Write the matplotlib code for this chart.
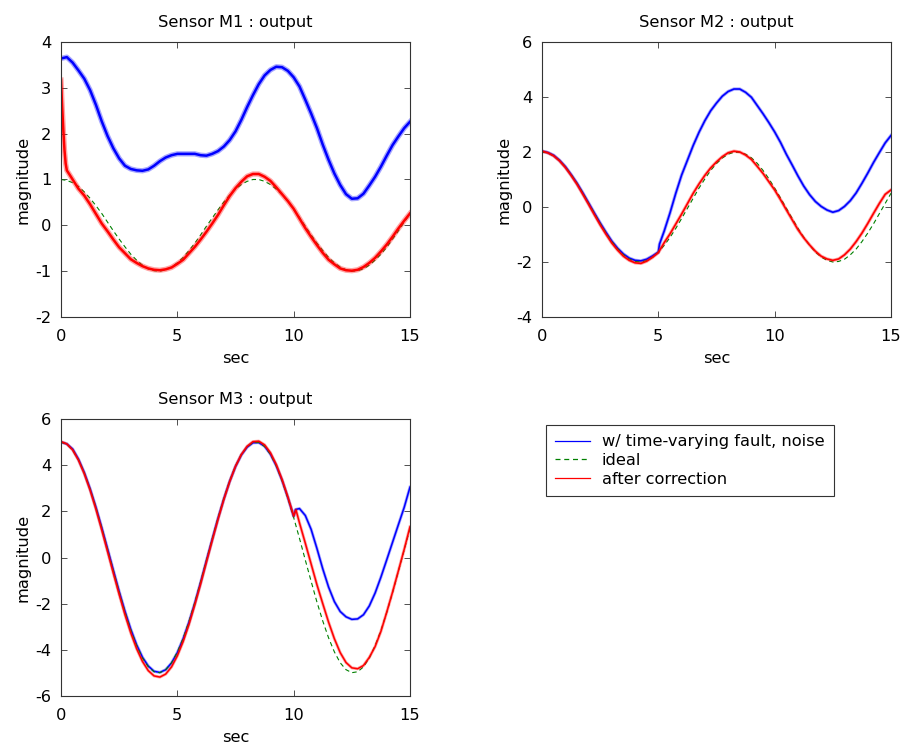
import numpy as np
import matplotlib
matplotlib.use("Agg")
import matplotlib.pyplot as plt
from matplotlib.lines import Line2D

plt.rcParams['font.family'] = ['DejaVu Sans']
plt.rcParams['axes.unicode_minus'] = False

# sample times (sec), 0.25 s spacing over 0..15
t = np.arange(61) * 0.25

# ---------------- Sensor M1 ----------------
m1_ideal = [1.00, 0.98, 0.93, 0.85, 0.73, 0.59, 0.43, 0.26, 0.07, -0.12,
            -0.30, -0.47, -0.63, -0.76, -0.87, -0.95, -0.99, -1.00, -0.97, -0.91,
            -0.82, -0.70, -0.55, -0.39, -0.21, -0.02, 0.16, 0.34, 0.51, 0.66,
            0.79, 0.89, 0.96, 1.00, 1.00, 0.96, 0.89, 0.79, 0.67, 0.52,
            0.35, 0.17, -0.02, -0.21, -0.39, -0.55, -0.70, -0.82, -0.91, -0.97,
            -1.00, -0.99, -0.95, -0.87, -0.76, -0.63, -0.48, -0.30, -0.12, 0.07,
            0.25]
m1_fault = [3.64, 3.67, 3.55, 3.38, 3.20, 2.95, 2.63, 2.27, 1.95, 1.68,
            1.46, 1.30, 1.23, 1.20, 1.19, 1.22, 1.30, 1.40, 1.48, 1.53,
            1.56, 1.56, 1.56, 1.56, 1.53, 1.52, 1.56, 1.62, 1.72, 1.86,
            2.05, 2.30, 2.58, 2.84, 3.08, 3.27, 3.39, 3.46, 3.45, 3.37,
            3.23, 3.03, 2.74, 2.44, 2.12, 1.76, 1.43, 1.13, 0.88, 0.68,
            0.58, 0.59, 0.69, 0.87, 1.06, 1.28, 1.52, 1.75, 1.94, 2.12,
            2.26]
# corrected output: start-up transient, then values on the 0.25 s grid
m1_start_t = [0.00, 0.05, 0.10, 0.15, 0.20]
m1_start_v = [3.17, 2.59, 2.08, 1.64, 1.35]
m1_corr = [1.20, 1.00, 0.80, 0.65, 0.46, 0.25, 0.04, -0.13, -0.31, -0.48,
           -0.61, -0.74, -0.82, -0.89, -0.94, -0.97, -0.98, -0.96, -0.92, -0.84,
           -0.75, -0.61, -0.47, -0.31, -0.14, 0.04, 0.23, 0.44, 0.64, 0.81,
           0.95, 1.07, 1.12, 1.12, 1.06, 0.97, 0.83, 0.68, 0.53, 0.36,
           0.15, -0.06, -0.25, -0.43, -0.60, -0.75, -0.85, -0.94, -0.98, -0.99,
           -0.97, -0.91, -0.82, -0.71, -0.57, -0.42, -0.25, -0.07, 0.10, 0.26]

# ---------------- Sensor M2 ----------------
m2_ideal = [2.00, 1.97, 1.86, 1.69, 1.46, 1.18, 0.86, 0.51, 0.14, -0.23,
            -0.60, -0.94, -1.26, -1.52, -1.74, -1.89, -1.98, -2.00, -1.95, -1.83,
            -1.64, -1.40, -1.11, -0.78, -0.42, -0.05, 0.32, 0.69, 1.02, 1.33,
            1.58, 1.78, 1.92, 1.99, 1.99, 1.92, 1.79, 1.59, 1.33, 1.03,
            0.69, 0.33, -0.04, -0.41, -0.77, -1.10, -1.39, -1.64, -1.82, -1.94,
            -2.00, -1.98, -1.90, -1.74, -1.53, -1.26, -0.95, -0.61, -0.24, 0.13,
            0.50]
m2_fault = [2.03, 1.98, 1.88, 1.70, 1.47, 1.18, 0.87, 0.52, 0.15, -0.22,
            -0.58, -0.92, -1.24, -1.50, -1.71, -1.86, -1.94, -1.96, -1.90, -1.78,
            -1.64, -0.88, -0.22, 0.50, 1.16, 1.70, 2.24, 2.72, 3.14, 3.50,
            3.78, 4.03, 4.20, 4.29, 4.29, 4.17, 3.99, 3.69, 3.39, 3.07,
            2.73, 2.35, 1.92, 1.53, 1.13, 0.76, 0.45, 0.20, 0.02, -0.11,
            -0.19, -0.13, 0.02, 0.23, 0.51, 0.86, 1.23, 1.62, 1.98, 2.33,
            2.60]
m2_fault_onset = (5.05, -1.35)
m2_corr = [2.03, 1.97, 1.86, 1.68, 1.44, 1.15, 0.83, 0.47, 0.10, -0.28,
           -0.65, -0.99, -1.31, -1.57, -1.79, -1.94, -2.03, -2.05, -1.97, -1.83,
           -1.66, -1.30, -0.98, -0.62, -0.26, 0.12, 0.50, 0.84, 1.15, 1.42,
           1.64, 1.83, 1.97, 2.03, 2.00, 1.89, 1.73, 1.48, 1.22, 0.92,
           0.62, 0.27, -0.10, -0.46, -0.82, -1.12, -1.38, -1.61, -1.79, -1.89,
           -1.94, -1.89, -1.74, -1.53, -1.26, -0.95, -0.60, -0.23, 0.13, 0.46,
           0.62]

# ---------------- Sensor M3 ----------------
m3_ideal = [5.00, 4.91, 4.65, 4.23, 3.66, 2.96, 2.16, 1.28, 0.35, -0.58,
            -1.50, -2.36, -3.14, -3.81, -4.35, -4.73, -4.95, -4.99, -4.86, -4.56,
            -4.10, -3.50, -2.77, -1.95, -1.05, -0.12, 0.81, 1.72, 2.56, 3.32,
            3.96, 4.46, 4.80, 4.98, 4.98, 4.81, 4.47, 3.97, 3.33, 2.58,
            1.73, 0.83, -0.11, -1.03, -1.93, -2.75, -3.48, -4.09, -4.56, -4.86,
            -4.99, -4.95, -4.74, -4.36, -3.82, -3.16, -2.38, -1.52, -0.60, 0.33,
            1.26]
m3_fault = [5.00, 4.92, 4.70, 4.26, 3.68, 2.98, 2.18, 1.30, 0.38, -0.55,
            -1.47, -2.33, -3.11, -3.78, -4.32, -4.70, -4.93, -4.98, -4.86, -4.57,
            -4.12, -3.52, -2.80, -1.98, -1.08, -0.14, 0.79, 1.70, 2.54, 3.30,
            3.94, 4.44, 4.78, 4.97, 4.98, 4.82, 4.48, 3.98, 3.35, 2.60,
            1.78, 2.12, 1.82, 1.22, 0.39, -0.49, -1.28, -1.91, -2.34, -2.57,
            -2.68, -2.66, -2.48, -2.10, -1.54, -0.85, -0.10, 0.66, 1.42, 2.17,
            3.05]
m3_fault_onset = (10.08, 2.08)
m3_corr = [5.02, 4.92, 4.66, 4.22, 3.63, 2.92, 2.10, 1.20, 0.26, -0.68,
           -1.60, -2.48, -3.27, -3.95, -4.50, -4.90, -5.13, -5.18, -5.05, -4.74,
           -4.26, -3.64, -2.90, -2.05, -1.15, -0.20, 0.74, 1.66, 2.52, 3.29,
           3.95, 4.46, 4.82, 5.02, 5.04, 4.88, 4.54, 4.03, 3.38, 2.62,
           1.80, 1.50, 0.62, -0.28, -1.18, -2.00, -2.80, -3.52, -4.12, -4.55,
           -4.78, -4.82, -4.68, -4.33, -3.86, -3.20, -2.37, -1.50, -0.58, 0.35,
           1.33]
m3_corr_onset = (10.10, 2.06)

x_ticks = [0, 5, 10, 15]
legend_labels = ['w/ time-varying fault, noise', 'ideal', 'after correction']

BLUE = (0.0, 0.0, 1.0)
GREEN = (0.0, 0.5, 0.0)
RED = (1.0, 0.0, 0.0)
FS = 11.7
DASH = (0, (4.0, 3.0))


def with_point(times, values, point):
    """Insert one extra (time, value) sample into a series."""
    idx = int(np.searchsorted(times, point[0]))
    return np.insert(times, idx, point[0]), np.insert(np.asarray(values, float), idx, point[1])


def noisy_line(ax, x, y, color, band, core):
    ax.plot(x, y, color=color, lw=band, alpha=0.35, solid_joinstyle='round')
    ax.plot(x, y, color=color, lw=core, solid_joinstyle='round')


def style(ax, title, ylim, yticks):
    ax.set_xlim(0, 15)
    ax.set_ylim(*ylim)
    ax.set_xticks(x_ticks)
    ax.set_yticks(yticks)
    ax.tick_params(direction='in', top=True, right=True, length=4, width=0.6,
                   labelsize=FS, pad=7, color='#333333')
    ax.tick_params(axis='x', pad=8.5)
    for s in ax.spines.values():
        s.set_color('#333333')
        s.set_linewidth(0.8)
    ax.set_title(title, fontsize=FS, pad=11)
    ax.set_xlabel('sec', fontsize=FS, labelpad=5)
    ax.set_ylabel('magnitude', fontsize=FS, labelpad=3)


fig = plt.figure(figsize=(9.04, 7.44), dpi=100)
W, H = 904, 744
ax1 = fig.add_axes([61 / W, 1 - 317 / H, 349 / W, 275 / H])
ax2 = fig.add_axes([542 / W, 1 - 317 / H, 349 / W, 275 / H])
ax3 = fig.add_axes([61 / W, 1 - 696 / H, 349 / W, 277 / H])

# M1
noisy_line(ax1, t, m1_fault, BLUE, 3.8, 1.8)
ax1.plot(t, m1_ideal, color=GREEN, lw=0.8, linestyle=DASH)
m1_ct = np.concatenate([m1_start_t, t[1:]])
m1_cv = np.concatenate([m1_start_v, m1_corr])
noisy_line(ax1, m1_ct, m1_cv, RED, 3.8, 1.8)
style(ax1, 'Sensor M1 : output', (-2, 4), [-2, -1, 0, 1, 2, 3, 4])

# M2
t2f, v2f = with_point(t, m2_fault, m2_fault_onset)
noisy_line(ax2, t2f, v2f, BLUE, 2.4, 1.2)
ax2.plot(t, m2_ideal, color=GREEN, lw=0.8, linestyle=DASH)
noisy_line(ax2, t, m2_corr, RED, 2.4, 1.2)
style(ax2, 'Sensor M2 : output', (-4, 6), [-4, -2, 0, 2, 4, 6])

# M3
t3f, v3f = with_point(t, m3_fault, m3_fault_onset)
noisy_line(ax3, t3f, v3f, BLUE, 2.2, 1.1)
ax3.plot(t, m3_ideal, color=GREEN, lw=0.8, linestyle=DASH)
t3c, v3c = with_point(t, m3_corr, m3_corr_onset)
noisy_line(ax3, t3c, v3c, RED, 2.2, 1.1)
style(ax3, 'Sensor M3 : output', (-6, 6), [-6, -4, -2, 0, 2, 4, 6])

handles = [Line2D([], [], color=BLUE, lw=0.9),
           Line2D([], [], color=GREEN, lw=0.9, linestyle=DASH),
           Line2D([], [], color=RED, lw=0.9)]
leg = fig.legend(handles, legend_labels, loc='upper left',
                 bbox_to_anchor=(546 / W, 1 - 425 / H), borderaxespad=0,
                 fontsize=FS, handlelength=2.15, handletextpad=0.7,
                 labelspacing=0.22, borderpad=0.58, fancybox=False,
                 framealpha=1, edgecolor='#333333')
leg.get_frame().set_linewidth(0.8)

fig.savefig('out.png', dpi=100)
